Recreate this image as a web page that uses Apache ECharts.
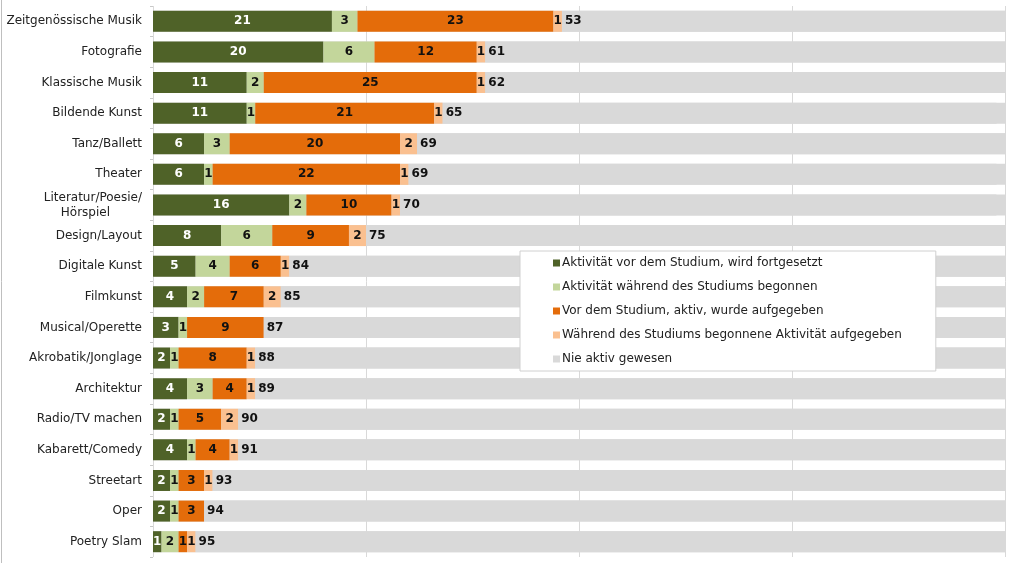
<!DOCTYPE html>
<html>
<head>
<meta charset="utf-8">
<script src="https://cdn.jsdelivr.net/npm/echarts@6/dist/echarts.min.js"></script>
<style>
html,body{margin:0;padding:0;background:#fff;}
#c{width:1024px;height:563px;}
</style>
</head>
<body>
<div id="c"></div>
<script>
const categories = [
  "Zeitgenössische Musik","Fotografie","Klassische Musik","Bildende Kunst","Tanz/Ballett","Theater",
  "Literatur/Poesie/\nHörspiel","Design/Layout","Digitale Kunst","Filmkunst","Musical/Operette",
  "Akrobatik/Jonglage","Architektur","Radio/TV machen","Kabarett/Comedy","Streetart","Oper","Poetry Slam"
];
const seriesNames = [
  "Aktivität vor dem Studium, wird fortgesetzt",
  "Aktivität während des Studiums begonnen",
  "Vor dem Studium, aktiv, wurde aufgegeben",
  "Während des Studiums begonnene Aktivität aufgegeben",
  "Nie aktiv gewesen"
];
const vorFortgesetzt   = [21,20,11,11,6,6,16,8,5,4,3,2,4,2,4,2,2,1];
const waehrendBegonnen = [3,6,2,1,3,1,2,6,4,2,1,1,3,1,1,1,1,2];
const vorAufgegeben    = [23,12,25,21,20,22,10,9,6,7,9,8,4,5,4,3,3,1];
const waehrendAufgeg   = [1,1,1,1,2,1,1,2,1,2,0,1,1,2,1,1,0,1];
const nieAktiv         = [53,61,62,65,69,69,70,75,84,85,87,88,89,90,91,93,94,95];

const colors = ["#4F6228","#C3D69B","#E46C0A","#FAC090","#D9D9D9"];
const labelColors = ["#ffffff","#111111","#111111","#111111","#111111"];
const allData = [vorFortgesetzt, waehrendBegonnen, vorAufgegeben, waehrendAufgeg, nieAktiv];

const chart = echarts.init(document.getElementById('c'));
const font = "'DejaVu Sans', Verdana, sans-serif";

const series = allData.map((d, i) => ({
  name: seriesNames[i],
  type: 'bar',
  stack: 'all',
  data: d,
  barWidth: 21,
  itemStyle: { color: colors[i] },
  showBackground: i === 4,
  backgroundStyle: { color: '#D9D9D9' },
  label: {
    show: true,
    position: i === 4 ? 'insideLeft' : 'inside',
    distance: 3,
    color: labelColors[i],
    fontFamily: font,
    fontWeight: 'bold',
    fontSize: 12,
    formatter: p => p.value === 0 ? '' : String(p.value)
  },
  emphasis: { disabled: true },
  animation: false
}));

chart.setOption({
  animation: false,
  textStyle: { fontFamily: font },
  grid: { left: 153, right: 19, top: 6, bottom: 6, containLabel: false, outerBoundsMode: 'none' },
  xAxis: {
    type: 'value', min: 0, max: 100, interval: 25,
    axisLabel: { show: false },
    axisLine: { show: false },
    axisTick: { show: false },
    splitLine: { show: true, lineStyle: { color: '#D9D9D9', width: 1 } }
  },
  yAxis: {
    type: 'category', data: categories, inverse: true,
    axisLine: { show: false },
    axisTick: { show: true, length: 3, lineStyle: { color: '#C8C8C8' } },
    axisLabel: {
      color: '#222', fontSize: 12, fontFamily: font, margin: 11, lineHeight: 15, align: 'right',
      formatter: v => v.split('\n').map((s, k) => k === 0 ? '{a|' + s + '}' : '{h|' + s + '}').join('\n'),
      rich: {
        a: { fontSize: 12, lineHeight: 15, color: '#222', fontFamily: font },
        h: { fontSize: 12, lineHeight: 15, color: '#222', fontFamily: font, padding: [0, 32, 0, 0] }
      }
    }
  },
  legend: {
    orient: 'vertical',
    left: 520, top: 251,
    padding: [4, 34, 4, 33],
    itemGap: 8,
    itemWidth: 7, itemHeight: 7,
    icon: 'rect',
    backgroundColor: '#fff',
    borderColor: '#D0D0D0', borderWidth: 1,
    textStyle: { color: '#222', fontSize: 12, fontFamily: font, lineHeight: 16, padding: [0,0,0,-3] },
    data: seriesNames
  },
  graphic: [{
    type: 'line', shape: { x1: 1.5, y1: 0, x2: 1.5, y2: 563 },
    style: { stroke: '#BFBFBF', lineWidth: 1 }
  }],
  series
});
</script>
</body>
</html>
